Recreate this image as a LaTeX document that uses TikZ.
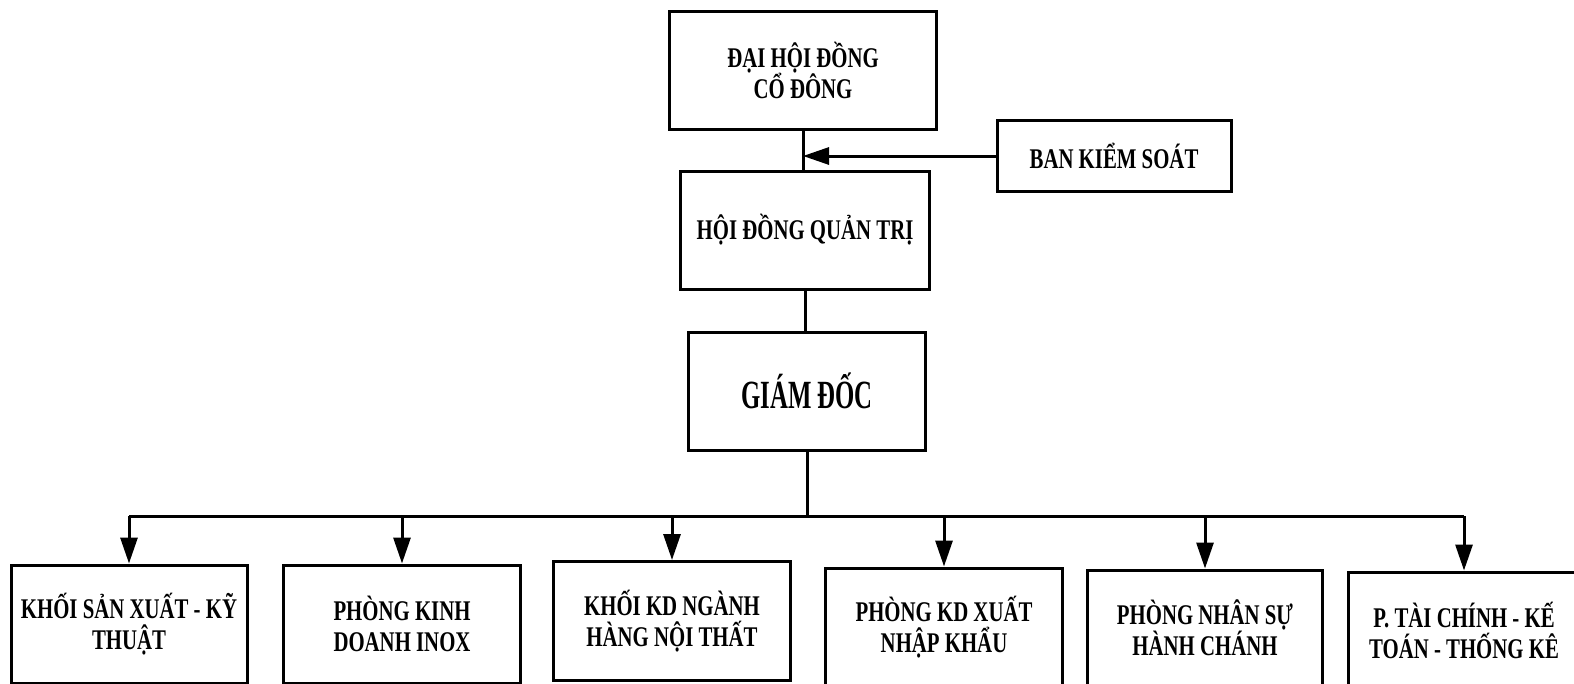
\documentclass[tikz,border=0pt]{standalone}
\usepackage{fontspec}
\setmainfont{Liberation Serif}[FakeStretch=0.73]
\newfontfamily\gdfont{Liberation Serif}[FakeStretch=0.62]
\usetikzlibrary{arrows.meta}

\begin{document}
\begin{tikzpicture}[x=1pt, y=-1pt, line width=3pt,
    main node/.style={rectangle,draw,line width=3pt,align=center,inner sep=2pt,
        font=\bfseries\fontsize{28.5}{31}\selectfont},
    big node/.style={main node,font=\gdfont\bfseries\fontsize{40}{44}\selectfont},
    down arrow/.style={-{Triangle[length=26pt,width=17pt]}}]

                \useasboundingbox (0,0) rectangle (1574,683);

                \node[main node,minimum width=267pt,minimum height=118pt] at (803,70) (dhd) {ĐẠI HỘI ĐỒNG\\CỔ ĐÔNG};
                \node[main node,minimum width=234pt,minimum height=71pt] at (1114,156) (bks) {BAN KIỂM SOÁT};
                \node[main node,minimum width=249pt,minimum height=118pt] at (805,230) (hdqt) {HỘI ĐỒNG QUẢN TRỊ};
                \node[big node,minimum width=237pt,minimum height=118pt] at (807,391) (gd) {GIÁM ĐỐC};

                \node[main node,minimum width=236pt,minimum height=118pt] at (129,624) (sx) {KHỐI SẢN XUẤT - KỸ\\THUẬT};
                \node[main node,minimum width=237pt,minimum height=118pt] at (402,624) (inox) {PHÒNG KINH\\DOANH INOX};
                \node[main node,minimum width=237pt,minimum height=119pt] at (672,621) (nt) {KHỐI KD NGÀNH\\HÀNG NỘI THẤT};
                \node[main node,minimum width=237pt,minimum height=118pt] at (944,627) (xnk) {PHÒNG KD XUẤT\\NHẬP KHẨU};
                \node[main node,minimum width=235pt,minimum height=116pt] at (1205,628) (ns) {PHÒNG NHÂN SỰ\\HÀNH CHÁNH};
                \node[main node,minimum width=231pt,minimum height=116pt] at (1464,630) (tc) {P. TÀI CHÍNH - KẾ\\TOÁN - THỐNG KÊ};

                \coordinate (bus) at (0,516);

                \draw (dhd.south) -- (dhd.south |- hdqt.north);
                \draw[down arrow] (bks.west) -- (bks.west -| dhd.south);
                \draw (hdqt.south) -- (hdqt.south |- gd.north);
                \draw (gd.south) -- (gd.south |- bus);
                \draw (sx.north |- bus) -- (tc.north |- bus);

                \draw[down arrow] (sx.north |- bus) -- (sx.north);
                \draw[down arrow] (inox.north |- bus) -- (inox.north);
                \draw[down arrow] (nt.north |- bus) -- (nt.north);
                \draw[down arrow] (xnk.north |- bus) -- (xnk.north);
                \draw[down arrow] (ns.north |- bus) -- (ns.north);
                \draw[down arrow] (tc.north |- bus) -- (tc.north);
            \end{tikzpicture}
\end{document}
